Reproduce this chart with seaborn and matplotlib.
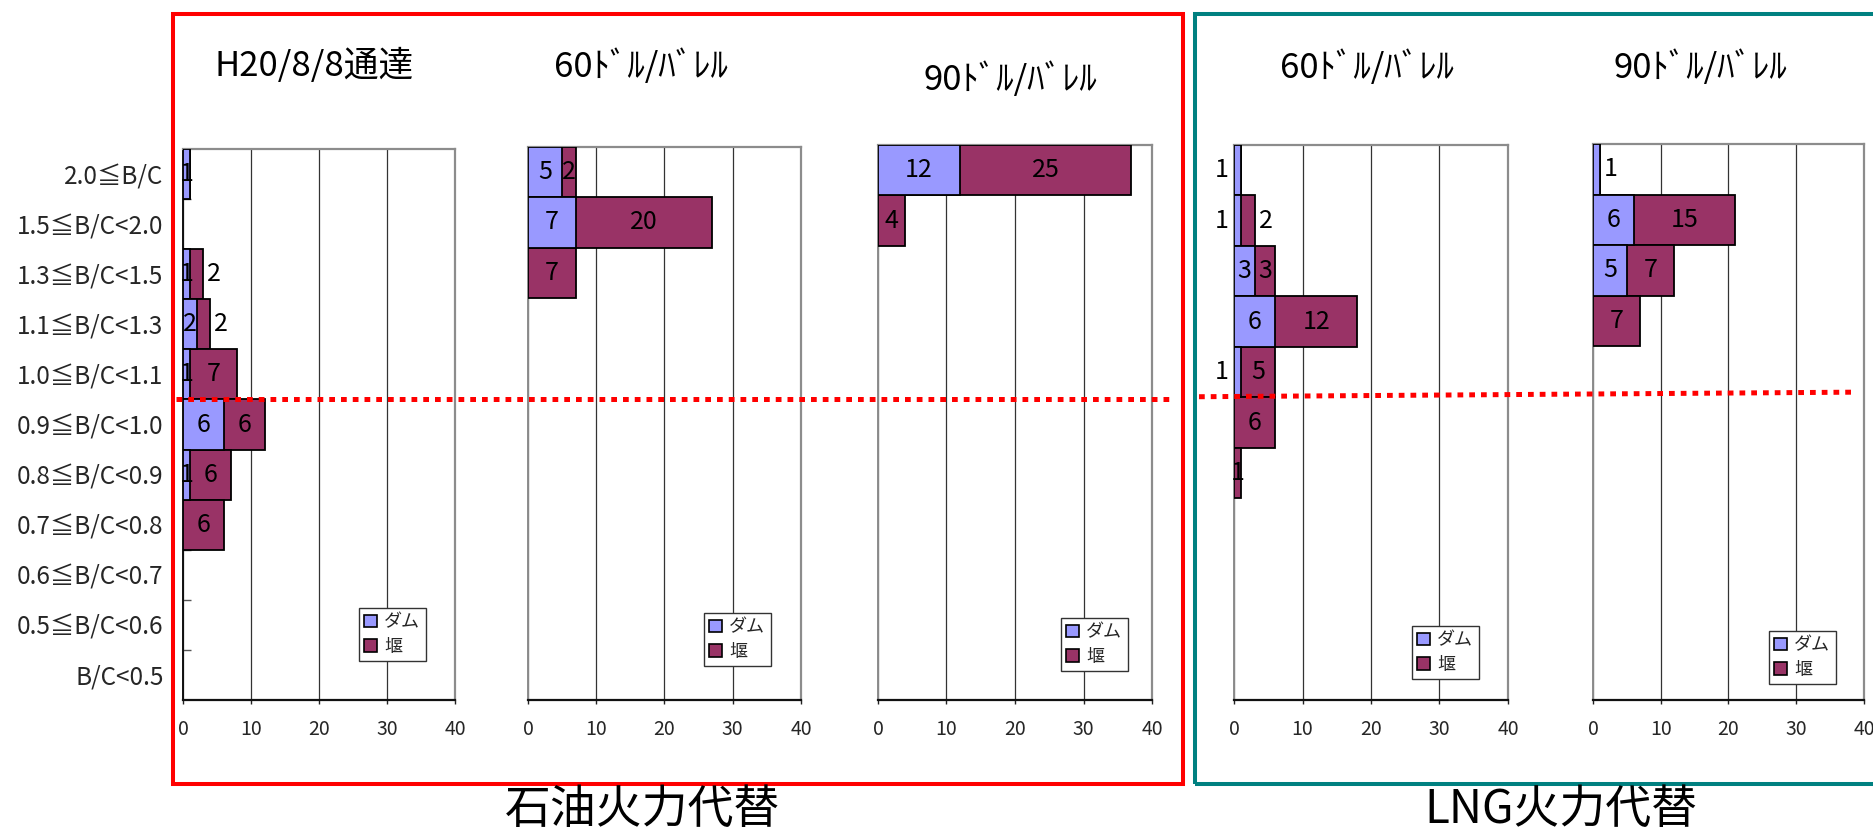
import matplotlib
matplotlib.use("Agg")
import matplotlib.pyplot as plt
import seaborn as sns
import pandas as pd
import numpy as np
from matplotlib.patches import Patch, Rectangle
from matplotlib.lines import Line2D
from matplotlib.transforms import blended_transform_factory

# ---------------------------------------------------------------- data
categories = ["2.0≦B/C", "1.5≦B/C<2.0", "1.3≦B/C<1.5", "1.1≦B/C<1.3",
              "1.0≦B/C<1.1", "0.9≦B/C<1.0", "0.8≦B/C<0.9", "0.7≦B/C<0.8",
              "0.6≦B/C<0.7", "0.5≦B/C<0.6", "B/C<0.5"]

panel_titles = ["H20/8/8通達", "60ﾄﾞﾙ/ﾊﾞﾚﾙ", "90ﾄﾞﾙ/ﾊﾞﾚﾙ", "60ﾄﾞﾙ/ﾊﾞﾚﾙ", "90ﾄﾞﾙ/ﾊﾞﾚﾙ"]
group_titles = ["石油火力代替", "LNG火力代替"]
series_names = ["ダム", "堰"]

dam_h20 = [1, 0, 1, 2, 1, 6, 1, 0, 0, 0, 0]
weir_h20 = [0, 0, 2, 2, 7, 6, 6, 6, 0, 0, 0]

dam_oil60 = [5, 7, 0, 0, 0, 0, 0, 0, 0, 0, 0]
weir_oil60 = [2, 20, 7, 0, 0, 0, 0, 0, 0, 0, 0]

dam_oil90 = [12, 0, 0, 0, 0, 0, 0, 0, 0, 0, 0]
weir_oil90 = [25, 4, 0, 0, 0, 0, 0, 0, 0, 0, 0]

dam_lng60 = [1, 1, 3, 6, 1, 0, 0, 0, 0, 0, 0]
weir_lng60 = [0, 2, 3, 12, 5, 6, 1, 0, 0, 0, 0]

dam_lng90 = [1, 6, 5, 0, 0, 0, 0, 0, 0, 0, 0]
weir_lng90 = [0, 15, 7, 7, 0, 0, 0, 0, 0, 0, 0]

x_ticks = [0, 10, 20, 30, 40]
threshold_boundary = 4.5   # boundary between 1.0≦B/C<1.1 and 0.9≦B/C<1.0

panels = [(dam_h20, weir_h20), (dam_oil60, weir_oil60), (dam_oil90, weir_oil90),
          (dam_lng60, weir_lng60), (dam_lng90, weir_lng90)]

# ---------------------------------------------------------------- style
DAM = "#9999FF"
WEIR = "#993366"

sns.set_theme(style="white")
plt.rcParams["font.family"] = ["Noto Sans CJK JP", "DejaVu Sans"]

W, H = 1874, 833
fig = plt.figure(figsize=(W / 100, H / 100), dpi=100)
fig.patch.set_facecolor("white")


def fx(x):
    return x / W


def fy(y):
    return 1 - y / H


# plot boxes in pixel extents (left, top, right, bottom)
axes_px = [(183, 149, 455, 700), (528, 147, 801, 700), (878, 145, 1152, 700),
           (1234, 145, 1508, 700), (1593, 144, 1864, 700)]
title_px = [(314, 66), (641, 67), (1010, 80), (1367, 68), (1700, 68)]
legend_px = [(359, 608), (704, 613), (1061, 618), (1412, 626), (1769, 631)]

# labels drawn beside a segment rather than inside it
label_side = {
    0: {("weir", 2): "right", ("weir", 3): "right"},
    3: {("dam", 0): "left", ("dam", 1): "left", ("dam", 4): "left",
        ("weir", 1): "right"},
    4: {("dam", 0): "right"},
}

VAL_FS = 18

axes = []
for k, ((dam, weir), (l, t, r, b)) in enumerate(zip(panels, axes_px)):
    ax = fig.add_axes([fx(l), fy(b), (r - l) / W, (b - t) / H])
    axes.append(ax)
    df = pd.DataFrame({"category": categories, "dam": dam, "weir": weir})
    df["total"] = df["dam"] + df["weir"]

    # stacked bars: total in weir colour, dam drawn over its left part
    sns.barplot(data=df, x="total", y="category", order=categories, orient="h",
                width=1.0, color=WEIR, saturation=1, edgecolor="black",
                linewidth=1.3, errorbar=None, ax=ax)
    sns.barplot(data=df, x="dam", y="category", order=categories, orient="h",
                width=1.0, color=DAM, saturation=1, edgecolor="black",
                linewidth=1.3, errorbar=None, ax=ax)
    for p in ax.patches:
        p.set_zorder(3)
        if p.get_width() == 0:
            p.set_visible(False)

    ax.set_xlim(0, 40)
    ax.set_ylim(len(categories) - 0.5, -0.5)
    ax.set_xlabel("")
    ax.set_ylabel("")
    ax.set_axisbelow(True)
    ax.grid(axis="x", color="#333333", linewidth=0.9)
    ax.grid(axis="y", visible=False)
    ax.set_xticks(x_ticks)
    ax.set_xticklabels([str(v) for v in x_ticks])
    ax.tick_params(axis="x", direction="out", length=3, width=1, color="#222222",
                   pad=11, labelsize=14, bottom=True)

    for side in ["top", "right"]:
        ax.spines[side].set_color("#8c8c8c")
        ax.spines[side].set_linewidth(1.6)
    ax.spines["bottom"].set_color("#111111")
    ax.spines["bottom"].set_linewidth(1.6)
    ax.spines["left"].set_color("#111111" if k == 0 else "#8c8c8c")
    ax.spines["left"].set_linewidth(1.4)

    if k == 0:
        ax.set_yticks(range(len(categories)))
        ax.set_yticklabels(categories, fontsize=17.5)
        ax.set_yticks(np.arange(0.5, len(categories) - 0.5, 1), minor=True)
        ax.tick_params(axis="y", which="major", length=0, pad=14)
        ax.tick_params(axis="y", which="minor", direction="in", length=6,
                       width=1, color="#555555", left=True)
    else:
        ax.set_yticks(range(len(categories)))
        ax.set_yticklabels([])
        ax.tick_params(axis="y", length=0)

    # value labels
    sides = label_side.get(k, {})
    for i in range(len(categories)):
        segs = [("dam", 0, dam[i]), ("weir", dam[i], weir[i])]
        for name, start, val in segs:
            if val == 0:
                continue
            side = sides.get((name, i))
            if side == "right":
                ax.annotate(str(val), (start + val, i), xytext=(11, 0),
                            textcoords="offset pixels", ha="center",
                            va="center", fontsize=VAL_FS, color="black",
                            annotation_clip=False)
            elif side == "left":
                ax.annotate(str(val), (start, i), xytext=(-12, 0),
                            textcoords="offset pixels", ha="center",
                            va="center", fontsize=VAL_FS, color="black",
                            annotation_clip=False)
            else:
                ax.text(start + val / 2, i, str(val), ha="center", va="center",
                        fontsize=VAL_FS, color="black", zorder=4)

    # legend
    handles = [Patch(facecolor=DAM, edgecolor="black", linewidth=1.2),
               Patch(facecolor=WEIR, edgecolor="black", linewidth=1.2)]
    lx, ly = legend_px[k]
    leg = ax.legend(handles, series_names, loc="upper left",
                    bbox_to_anchor=(fx(lx), fy(ly)),
                    bbox_transform=fig.transFigure, fontsize=13,
                    frameon=True, fancybox=False, borderaxespad=0,
                    borderpad=0.3, labelspacing=0.35, handlelength=0.7,
                    handleheight=0.7, handletextpad=0.4)
    leg.get_frame().set_edgecolor("#333333")
    leg.get_frame().set_linewidth(1.0)
    leg.get_frame().set_alpha(1)
    leg.set_zorder(5)

    tx, ty = title_px[k]
    fig.text(fx(tx), fy(ty), panel_titles[k], ha="center", va="center",
             fontsize=25, color="black")

# group boxes
fig.add_artist(Rectangle((fx(173), fy(784)), fx(1183) - fx(173), (784 - 14) / H,
                         transform=fig.transFigure, fill=False,
                         edgecolor="#FF0000", linewidth=2.9))
fig.add_artist(Rectangle((fx(1195), fy(784)), fx(1885) - fx(1195), (784 - 14) / H,
                         transform=fig.transFigure, fill=False,
                         edgecolor="#008080", linewidth=2.9))

# B/C = 1.0 threshold lines
tr1 = blended_transform_factory(fig.transFigure, axes[0].transData)
fig.add_artist(Line2D([fx(176), fx(1171)], [threshold_boundary, threshold_boundary],
                      transform=tr1, color="#FF0000", linewidth=3.6,
                      dashes=(1.15, 1.2), dash_capstyle="butt", zorder=6))
tr2 = blended_transform_factory(fig.transFigure, axes[4].transData)
fig.add_artist(Line2D([fx(1199), fx(1853)], [threshold_boundary, threshold_boundary - 0.09],
                      transform=tr2, color="#FF0000", linewidth=3.6,
                      dashes=(1.15, 1.2), dash_capstyle="butt", zorder=6))

# group captions
fig.text(fx(643), fy(810), group_titles[0], ha="center", va="center",
         fontsize=33, color="black")
fig.text(fx(1561), fy(810), group_titles[1], ha="center", va="center",
         fontsize=33, color="black")

fig.savefig("out.png", dpi=100, facecolor="white")
